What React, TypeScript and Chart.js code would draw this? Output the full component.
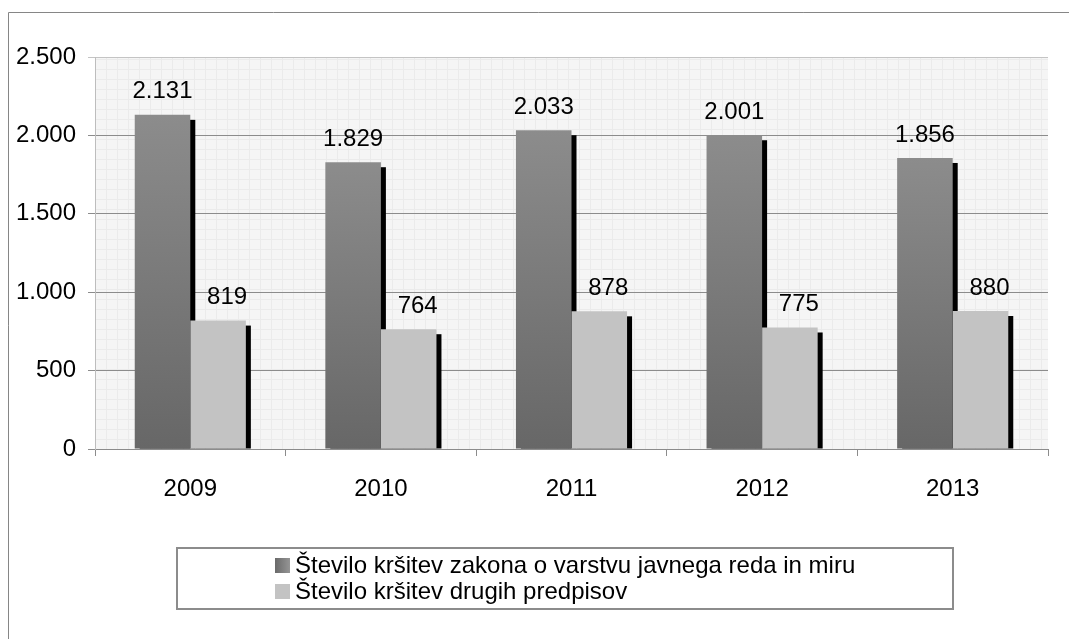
import React, { useEffect, useRef } from 'react';
import { Chart, registerables } from 'chart.js';

Chart.register(...registerables);

const categories = ['2009', '2010', '2011', '2012', '2013'];
const seriesNames = [
  'Število kršitev zakona o varstvu javnega reda in miru',
  'Število kršitev drugih predpisov',
];
const lawViolations = [2131, 1829, 2033, 2001, 1856];
const otherViolations = [819, 764, 878, 775, 880];
const yMin = 0;
const yMax = 2500;
const yStep = 500;

const FONT = '"Liberation Sans", Arial, Helvetica, sans-serif';
const FONT_SIZE = 24;

const fmt = (v: number) =>
  String(Math.round(v)).replace(/\B(?=(\d{3})+(?!\d))/g, '.');

const darkGradient = (ctx: any) => {
  const chart = ctx.chart;
  const area = chart.chartArea;
  const yScale = chart.scales && chart.scales.y;
  if (!area || !yScale || ctx.raw == null) return '#7a7a7a';
  const top = yScale.getPixelForValue(ctx.raw);
  const bottom = yScale.getPixelForValue(0);
  if (!isFinite(top) || !isFinite(bottom) || bottom - top < 1) return '#7a7a7a';
  const g = chart.ctx.createLinearGradient(0, top, 0, bottom);
  g.addColorStop(0, '#8c8c8c');
  g.addColorStop(1, '#676767');
  return g;
};

const backgroundPlugin = {
  id: 'plotBackground',
  beforeDraw(chart: any) {
    const { ctx, chartArea: a, width, height } = chart;
    ctx.save();
    ctx.fillStyle = '#ffffff';
    ctx.fillRect(0, 0, width, height);
    // outer frame
    ctx.strokeStyle = '#868686';
    ctx.lineWidth = 1;
    ctx.beginPath();
    ctx.moveTo(8.5, height);
    ctx.lineTo(8.5, 12.5);
    ctx.lineTo(width, 12.5);
    ctx.stroke();
    // plot area fill with fine grid pattern
    ctx.fillStyle = '#f5f5f5';
    ctx.fillRect(a.left, a.top, a.right - a.left, a.bottom - a.top);
    ctx.strokeStyle = '#ebebeb';
    ctx.beginPath();
    for (let x = a.left + 11; x < a.right; x += 11) {
      ctx.moveTo(Math.round(x) + 0.5, a.top);
      ctx.lineTo(Math.round(x) + 0.5, a.bottom);
    }
    for (let y = a.bottom - 10; y > a.top; y -= 10) {
      ctx.moveTo(a.left, Math.round(y) + 0.5);
      ctx.lineTo(a.right, Math.round(y) + 0.5);
    }
    ctx.stroke();
    ctx.restore();
  },
};

const shadowPlugin = {
  id: 'barShadows',
  beforeDatasetsDraw(chart: any) {
    const { ctx, chartArea: a } = chart;
    ctx.save();
    ctx.beginPath();
    ctx.rect(a.left, a.top, a.right - a.left, a.bottom - a.top);
    ctx.clip();
    ctx.fillStyle = '#000000';
    chart.data.datasets.forEach((_: any, di: number) => {
      const meta = chart.getDatasetMeta(di);
      meta.data.forEach((el: any) => {
        const p = el.getProps(['x', 'y', 'base', 'width'], true);
        const left = p.x - p.width / 2 + 5;
        const top = p.y + 5;
        ctx.fillRect(left, top, p.width, p.base - top);
      });
    });
    ctx.restore();
  },
};

const labelPlugin = {
  id: 'valueLabels',
  afterDatasetsDraw(chart: any) {
    const { ctx } = chart;
    ctx.save();
    ctx.font = `${FONT_SIZE}px ${FONT}`;
    ctx.fillStyle = '#000000';
    ctx.textAlign = 'center';
    ctx.textBaseline = 'middle';
    chart.data.datasets.forEach((ds: any, di: number) => {
      const meta = chart.getDatasetMeta(di);
      meta.data.forEach((el: any, i: number) => {
        const p = el.getProps(['x', 'y'], true);
        const dx = di === 1 ? 9 : 0;
        ctx.fillText(fmt(ds.data[i]), p.x + dx, p.y - 23);
      });
    });
    ctx.restore();
  },
};

const legendPlugin = {
  id: 'boxLegend',
  afterDraw(chart: any) {
    const { ctx } = chart;
    ctx.save();
    ctx.strokeStyle = '#8c8c8c';
    ctx.lineWidth = 2;
    ctx.strokeRect(177, 548, 776, 61);
    ctx.font = `${FONT_SIZE}px ${FONT}`;
    ctx.textAlign = 'left';
    ctx.textBaseline = 'middle';
    const rowY = [565, 591];
    chart.data.datasets.forEach((ds: any, di: number) => {
      const cy = rowY[di];
      if (di === 0) {
        const g = ctx.createLinearGradient(275, 0, 290, 0);
        g.addColorStop(0, '#6a6a6a');
        g.addColorStop(1, '#959595');
        ctx.fillStyle = g;
      } else {
        ctx.fillStyle = '#c3c3c3';
      }
      ctx.fillRect(275, cy - 7, 15, 15);
      ctx.fillStyle = '#000000';
      ctx.fillText(ds.label, 295, cy + 1);
    });
    ctx.restore();
  },
};

export default function App() {
  const canvasRef = useRef<HTMLCanvasElement | null>(null);

  useEffect(() => {
    document.body.style.margin = '0';
    const canvas = canvasRef.current;
    if (!canvas) return;
    const chart = new Chart(canvas, {
      type: 'bar',
      data: {
        labels: categories,
        datasets: [
          {
            label: seriesNames[0],
            data: lawViolations,
            backgroundColor: darkGradient,
            borderWidth: 0,
          },
          {
            label: seriesNames[1],
            data: otherViolations,
            backgroundColor: '#c3c3c3',
            borderWidth: 0,
          },
        ],
      },
      options: {
        responsive: false,
        animation: false,
        devicePixelRatio: 1,
        layout: { padding: { left: 8, top: 57, right: 21, bottom: 140 } },
        datasets: {
          bar: { categoryPercentage: 0.583, barPercentage: 1 },
        },
        plugins: {
          legend: { display: false },
          tooltip: { enabled: false },
          title: { display: false },
        },
        scales: {
          x: {
            afterFit: (s: any) => {
              s.height = 50;
            },
            grid: {
              offset: true,
              drawOnChartArea: false,
              drawTicks: true,
              tickLength: 7,
              color: '#8c8c8c',
            },
            border: { display: true, color: '#8c8c8c', width: 1 },
            ticks: {
              color: '#000000',
              padding: 19,
              font: { family: FONT, size: FONT_SIZE },
            },
          },
          y: {
            min: yMin,
            max: yMax,
            afterFit: (s: any) => {
              s.width = 87;
            },
            grid: {
              color: (c: any) => (c.tick && c.tick.value === yMax ? '#c4c4c4' : '#8c8c8c'),
              tickLength: 7,
              drawTicks: true,
            },
            border: { display: true, color: '#bdbdbd', width: 1 },
            ticks: {
              stepSize: yStep,
              color: '#000000',
              padding: 12,
              font: { family: FONT, size: FONT_SIZE },
              callback: (v: any) => fmt(Number(v)),
            },
          },
        },
      },
      plugins: [backgroundPlugin, shadowPlugin, labelPlugin, legendPlugin],
    });
    return () => chart.destroy();
  }, []);

  return (
    <div style={{ position: 'absolute', left: 0, top: 0, width: 1069, height: 639 }}>
      <canvas ref={canvasRef} width={1069} height={639} style={{ display: 'block' }} />
    </div>
  );
}
